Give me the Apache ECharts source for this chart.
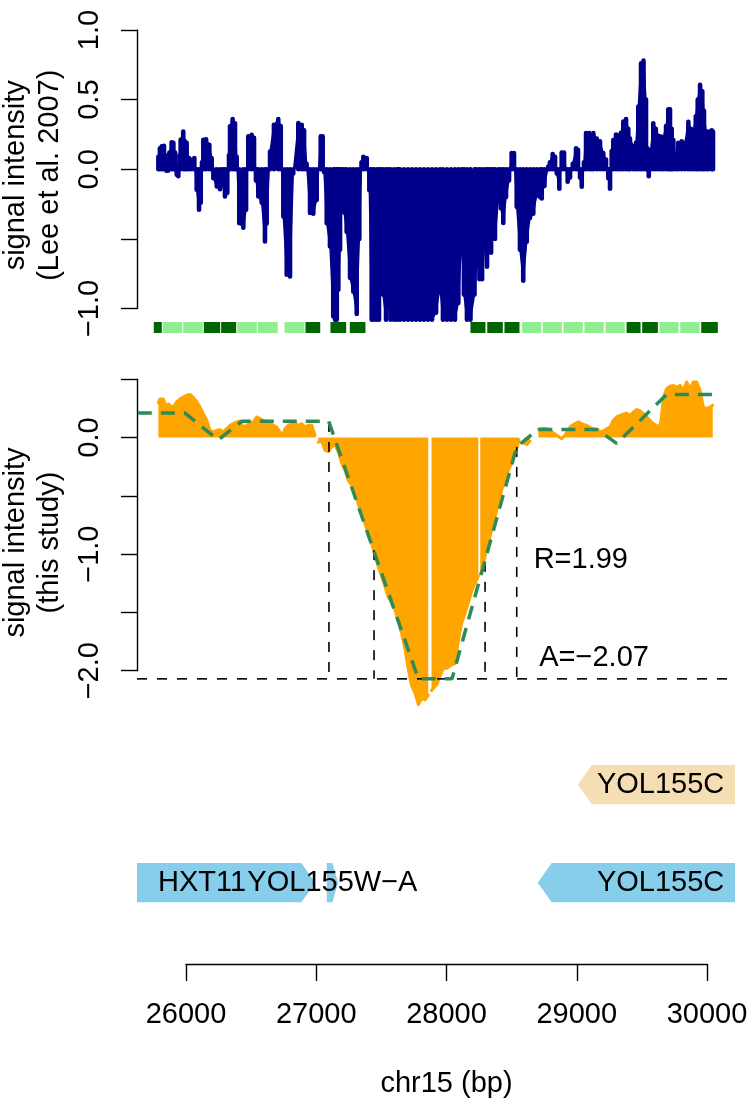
<!DOCTYPE html>
<html><head><meta charset="utf-8">
<script src="https://cdn.jsdelivr.net/npm/echarts@6/dist/echarts.min.js"></script>
<style>html,body{margin:0;padding:0;background:#fff}#c{width:747px;height:1103px}</style>
</head><body><div id="c"></div>
<script>
// ---------------- data ----------------
// Lee et al. 2007 probe signal (top panel)
const leeX = [25788,25800,25814,25831,25843,25850,25862,25873,25890,25903,
25916,25929,25941,25950,25959,25979,25992,26005,26023,26044,
26064,26082,26100,26113,26123,26133,26154,26179,26197,26210,
26236,26261,26282,26299,26317,26330,26338,26358,26376,26389,
26409,26440,26461,26478,26504,26522,26537,26555,26581,26606,
26619,26645,26675,26708,26727,26747,26773,26798,26823,26862,
26888,26906,26926,26952,26977,27003,27034,27049,27059,27080,
27105,27130,27144,27157,27169,27182,27195,27213,27233,27259,
27284,27310,27330,27347,27361,27387,27407,27425,27443,27466,
27481,27496,27512,27535,27554,27569,27596,27619,27631,27642,
27673,27704,27734,27765,27796,27826,27857,27888,27919,27949,
27972,28003,28034,28064,28090,28116,28133,28156,28183,28214,
28229,28241,28252,28272,28295,28310,28325,28341,28358,28371,
28397,28417,28435,28456,28479,28499,28517,28538,28563,28588,
28615,28640,28665,28691,28717,28730,28751,28780,28793,28814,
28832,28845,28865,28883,28901,28916,28929,28947,28968,28993,
29008,29024,29037,29054,29070,29095,29112,29126,29152,29177,
29202,29223,29241,29254,29267,29279,29300,29318,29336,29356,
29377,29394,29407,29433,29453,29471,29492,29511,29530,29540,
29551,29566,29586,29605,29625,29645,29663,29684,29701,29714,
29727,29740,29760,29778,29804,29829,29855,29875,29893,29912,
29927,29945,29962,29975,29991,30008,30034,30044];
const leeV = [0.09,0.15,0.165,0.168,0.10,-0.01,-0.01,0.12,0.193,0.19,
0.12,-0.04,-0.05,0.10,0.212,0.271,0.20,0.19,0.08,0.068,
0.08,-0.147,-0.29,-0.24,0.05,0.212,0.215,0.175,0.08,-0.064,
-0.124,-0.143,-0.11,-0.195,-0.17,0.1,0.308,0.36,0.33,0.09,
-0.387,-0.42,-0.29,0.236,0.248,0.225,-0.08,-0.195,-0.24,-0.518,
-0.39,0.128,0.319,0.36,0.31,-0.34,-0.758,-0.77,-0.03,0.331,
0.32,0.28,0.04,-0.314,-0.32,-0.22,0.236,0.236,-0.02,-0.387,
-0.554,-1.057,-1.08,-1.08,-0.865,-0.578,-0.17,-0.31,-0.45,-0.78,
-0.88,-1.04,-0.5,0.05,0.09,0.08,-0.15,-1.08,-1.08,-1.08,
-1.08,-0.72,-0.9,-1.08,-0.95,-1.08,-1.08,-1.08,-0.96,-1.08,
-1.08,-1.08,-1.08,-1.08,-1.08,-1.08,-1.08,-1.08,-1.03,-0.85,
-1.08,-1.08,-1.08,-1.08,-0.96,-0.5,-0.9,-1.08,-1.08,-0.9,
-0.7,null,-0.79,-0.79,-0.51,-0.7,-0.55,-0.6,-0.31,-0.5,
-0.22,-0.28,-0.386,-0.2,-0.08,0.116,0.116,-0.27,-0.578,-0.80,
-0.52,-0.35,-0.32,-0.19,-0.2,-0.21,-0.12,0.02,0.05,0.11,
0.09,-0.03,-0.14,0.12,0.12,0.0,-0.09,-0.06,0.04,0.15,
0.14,-0.06,-0.125,0.05,0.26,0.26,0.22,0.26,0.22,0.2,
0.116,0.07,-0.064,-0.14,0.13,0.21,0.25,0.24,0.26,0.343,
0.36,0.29,0.22,0.163,0.19,0.45,0.76,0.78,0.5,0.15,
-0.05,0.14,0.33,0.29,0.24,0.235,0.23,0.31,0.43,0.43,
0.29,0.21,0.07,0.19,0.2,0.19,0.34,0.29,0.26,0.38,
0.5,0.607,0.56,0.42,0.27,0.27,0.28,0.27];

// this study probe signal (middle panel)
const studyX = [25788,25800,25826,25839,25852,25864,25883,25903,25929,25954,
25979,26005,26031,26056,26082,26107,26133,26159,26184,26210,
26236,26261,26286,26312,26338,26363,26389,26414,26440,26466,
26491,26517,26543,26555,26568,26593,26619,26645,26670,26696,
26721,26742,26760,26785,26811,26837,26862,26888,26913,26939,
26965,26977,26990,27002,27015,27041,27067,27092,27118,27144,
27169,27195,27220,27246,27272,27297,27322,27348,27374,27399,
27425,27450,27476,27502,27527,27553,27579,27604,27629,27655,
27681,27706,27732,27757,27783,27809,27834,27859,27873,27884,
27898,27924,27949,27975,28001,28039,28064,28090,28116,28141,
28166,28192,28218,28243,28251,28258,28269,28295,28320,28346,
28371,28397,28423,28448,28473,28499,28525,28542,28556,28571,
28594,28617,28640,28671,28704,28732,28768,28806,28845,28883,
28908,28947,28985,29011,29037,29075,29113,29152,29190,29229,
29254,29279,29305,29331,29356,29382,29407,29433,29459,29484,
29509,29535,29561,29586,29612,29638,29651,29663,29689,29714,
29740,29766,29791,29816,29842,29868,29893,29919,29945,29970,
29996,30021,30042];
const studyV = [0.30,0.33,0.33,0.29,0.26,0.29,0.27,0.26,0.31,0.33,
0.348,0.363,0.371,0.345,0.31,0.262,0.205,0.15,0.063,0.048,
0.063,0.068,0.048,0.077,0.105,0.12,0.134,0.143,0.09,0.105,
0.12,0.134,0.177,0.19,0.163,0.148,0.134,0.12,0.105,0.09,
0.048,0.02,0.077,0.105,0.12,0.126,0.105,0.12,0.09,0.105,
0.105,0.105,0.02,null,-0.04,-0.03,-0.11,-0.12,-0.08,-0.06,
-0.125,-0.22,-0.28,-0.37,-0.41,-0.48,-0.57,-0.65,-0.74,-0.82,
-0.91,-1.01,-1.11,-1.19,-1.28,-1.37,-1.42,-1.48,-1.57,-1.68,
-1.82,-1.99,-2.13,-2.19,-2.29,-2.24,-2.25,-2.21,null,-2.17,
-2.15,-2.12,-2.05,-1.98,-1.98,-1.95,-1.94,-1.74,-1.59,-1.51,
-1.42,-1.32,-1.25,-1.19,null,-1.17,-1.15,-1.02,-0.91,-0.79,
-0.68,-0.57,-0.45,-0.37,-0.28,-0.22,-0.14,-0.08,-0.02,null,
-0.05,-0.06,-0.03,null,0.073,0.077,0.077,0.05,0.02,-0.01,
0.02,0.09,0.12,0.134,0.12,0.105,0.08,0.066,0.048,0.077,
0.09,0.148,0.177,0.19,0.2,0.21,0.19,0.22,0.24,0.23,
0.205,0.177,0.148,0.12,0.105,0.091,0.2,0.348,0.42,0.44,
0.448,0.43,0.448,0.405,0.477,0.42,0.477,0.477,0.405,0.262,
0.248,0.262,0.277];

// fitted piecewise model (green dashed)
const fitX = [25630,25992,26248,26427,27095,27783,28041,28538,28700,29154,29305,29689,30080];
const fitV = [0.21,0.21,-0.02,0.14,0.14,-2.07,-2.07,-0.08,0.07,0.07,-0.05,0.37,0.37];

// model parameters and breakpoints
const amplitudeA = -2.07;
const rangeR = 1.99;
const breakX = [27097,27443,28295,28538];
const breakTop = [0.134,-0.966,-1.066,-0.08];
const statX = [28668,28711];
const statY = [-1.051,-1.891];

// tiles under top panel (1 = dark, 0 = light)
const tileStart = [25749,25818,25975,26133,26266,26389,26547,26752,26913,27105,27253,28179,28308,28440,28576,28734,28893,29054,29215,29377,29497,29630,29789,29950];
const tileEnd   = [25818,25975,26133,26266,26389,26547,26708,26913,27034,27233,27381,28302,28435,28563,28730,28888,29049,29210,29371,29492,29625,29783,29945,30085];
const tileClass = [1,0,0,1,1,0,0,0,1,1,1,1,1,1,0,0,0,0,0,1,1,0,0,1];

// genes
const geneName   = ['HXT11','YOL155W\u2212A','YOL155C','YOL155C'];
const geneStart  = [25253,27080,28699,29007];
const geneEnd    = [26993,27167,30585,30277];
const geneStrand = ['+','+','-','-'];
const geneRow    = [0,0,0,1];

// axes
const xTicks = [26000,27000,28000,29000,30000];
const topLabelled = [1,0.5,0,-1];
const midLabelled = [0,-1,-2];

// ---------------- style ----------------
const FONT = 'Liberation Sans';
const FS = 29;
const X_MIN = 25624, X_MAX = 30213;
const BLUE = '#00008B', ORANGE = '#FFA500', FIT = '#2E8B57';
const DARK = '#006400', LIGHT = '#90EE90';
const ROWCOL = ['#87CEEB', '#F5DEB3'];

const fmt = v => {
  const r = Math.round(v * 10) / 10;
  return r === 0 ? '0.0' : r.toFixed(1).replace('-', '\u2212');
};
const has = (arr, v) => arr.some(a => Math.abs(a - v) < 1e-6);
const pairs = (xs, vs) => xs.map((x, i) => [x, vs[i] === null ? '-' : vs[i]]);

const axisBase = {
  axisLine: {show: true, lineStyle: {color: '#000', width: 1.4}},
  axisTick: {show: true, inside: false, length: 16, lineStyle: {color: '#000', width: 1.4}},
  splitLine: {show: false}
};
const nameStyle = (pad) => ({fontSize: FS, fontFamily: FONT, color: '#000', lineHeight: 34, padding: [0, pad, 0, 0]});
const gridBase = {outerBoundsMode: 'none', containLabel: false};

const chart = echarts.init(document.getElementById('c'), null, {renderer: 'canvas'});
const option = {
  animation: false,
  backgroundColor: '#fff',
  textStyle: {fontFamily: FONT},
  grid: [
    Object.assign({left: 137, width: 598, top: 30, height: 278.5}, gridBase),
    Object.assign({left: 137, width: 598, top: 322, height: 11}, gridBase),
    Object.assign({left: 137, width: 598, top: 379.3, height: 291.4}, gridBase),
    Object.assign({left: 137, width: 598, top: 735.7, height: 196}, gridBase),
    Object.assign({left: 186, width: 521, top: 900, height: 64}, gridBase)
  ],
  xAxis: [
    {type: 'value', gridIndex: 0, min: X_MIN, max: X_MAX, show: false},
    {type: 'value', gridIndex: 1, min: X_MIN, max: X_MAX, show: false},
    {type: 'value', gridIndex: 2, min: X_MIN, max: X_MAX, show: false},
    {type: 'value', gridIndex: 3, min: X_MIN, max: X_MAX, show: false},
    Object.assign({}, axisBase, {
      type: 'value', gridIndex: 4, min: xTicks[0], max: xTicks[xTicks.length - 1], interval: 1000,
      axisTick: {show: true, inside: false, length: 17, lineStyle: {color: '#000', width: 1.4}},
      axisLabel: {margin: 36, fontSize: FS, fontFamily: FONT, color: '#000', formatter: v => String(v)},
      name: 'chr15 (bp)', nameLocation: 'middle', nameGap: 105,
      nameTextStyle: {fontSize: FS, fontFamily: FONT, color: '#000'}
    })
  ],
  yAxis: [
    Object.assign({}, axisBase, {
      type: 'value', gridIndex: 0, min: -1, max: 1, interval: 0.5,
      axisLabel: {rotate: 90, margin: 33, fontSize: FS, fontFamily: FONT, color: '#000',
        formatter: v => has(topLabelled, v) ? fmt(v) : ''},
      name: 'signal intensity\n(Lee et al. 2007)', nameLocation: 'middle', nameRotate: 90, nameGap: 52,
      nameTextStyle: nameStyle(12)
    }),
    {type: 'value', gridIndex: 1, min: 0, max: 1, show: false},
    Object.assign({}, axisBase, {
      type: 'value', gridIndex: 2, min: -2, max: 0.5, interval: 0.5,
      axisLabel: {rotate: 90, margin: 33, fontSize: FS, fontFamily: FONT, color: '#000',
        formatter: v => has(midLabelled, v) ? fmt(v) : ''},
      name: 'signal intensity\n(this study)', nameLocation: 'middle', nameRotate: 90, nameGap: 52,
      nameTextStyle: nameStyle(35)
    }),
    {type: 'value', gridIndex: 3, min: 0, max: 2, show: false},
    {type: 'value', gridIndex: 4, min: 0, max: 1, show: false}
  ],
  series: [
    {
      // envelope fill between neighbouring probes
      type: 'line', xAxisIndex: 0, yAxisIndex: 0, data: pairs(leeX, leeV),
      showSymbol: false, clip: false, silent: true, z: 2,
      lineStyle: {color: BLUE, width: 1.5, join: 'round'},
      areaStyle: {color: BLUE, opacity: 1}
    },
    {
      // R type="h": a vertical line from 0 to each probe value
      type: 'custom', xAxisIndex: 0, yAxisIndex: 0, silent: true, clip: false, z: 2,
      data: leeX.map((x, i) => [x, leeV[i]]).filter(d => d[1] !== null),
      renderItem: (params, api) => {
        const a = api.coord([api.value(0), 0]);
        const b = api.coord([api.value(0), api.value(1)]);
        return {type: 'line', shape: {x1: a[0], y1: a[1], x2: b[0], y2: b[1]},
          style: {stroke: BLUE, lineWidth: 4.6, lineCap: 'round'}};
      }
    },
    {
      type: 'custom', xAxisIndex: 1, yAxisIndex: 1, silent: true, z: 5,
      data: tileStart.map((s, i) => [s, tileEnd[i], tileClass[i]]),
      renderItem: (params, api) => {
        const p0 = api.coord([api.value(0), 1]);
        const p1 = api.coord([api.value(1), 0]);
        return {type: 'rect',
          shape: {x: p0[0] + 0.5, y: p0[1], width: Math.max(p1[0] - p0[0] - 1, 0.5), height: p1[1] - p0[1]},
          style: {fill: api.value(2) ? DARK : LIGHT}};
      }
    },
    {
      type: 'line', xAxisIndex: 2, yAxisIndex: 2, data: pairs(studyX, studyV),
      showSymbol: false, clip: false, silent: true, z: 2,
      lineStyle: {color: ORANGE, width: 3, join: 'round', cap: 'round'},
      areaStyle: {color: ORANGE, opacity: 1}
    },
    {
      type: 'line', xAxisIndex: 2, yAxisIndex: 2, data: [[X_MIN, amplitudeA], [X_MAX, amplitudeA]],
      showSymbol: false, clip: false, silent: true, z: 3,
      lineStyle: {color: '#000', width: 1.6, type: [10, 10]}
    },
    {
      type: 'custom', xAxisIndex: 2, yAxisIndex: 2, silent: true, clip: false, z: 3,
      data: breakX.map((x, i) => [x, breakTop[i]]),
      renderItem: (params, api) => {
        const a = api.coord([api.value(0), api.value(1)]);
        const b = api.coord([api.value(0), amplitudeA]);
        return {type: 'line', shape: {x1: a[0], y1: a[1], x2: b[0], y2: b[1]},
          style: {stroke: '#000', lineWidth: 1.6, lineDash: [10, 10]}};
      }
    },
    {
      type: 'line', xAxisIndex: 2, yAxisIndex: 2, data: pairs(fitX, fitV),
      showSymbol: false, clip: false, silent: true, z: 4,
      lineStyle: {color: FIT, width: 3.5, type: [14, 9]}
    },
    {
      type: 'custom', xAxisIndex: 2, yAxisIndex: 2, silent: true, clip: false, z: 6,
      data: statX.map((x, i) => [x, statY[i]]),
      renderItem: (params, api) => {
        const p = api.coord([api.value(0), api.value(1)]);
        const txt = params.dataIndex === 0 ? 'R=' + rangeR.toFixed(2)
                                           : 'A=' + amplitudeA.toFixed(2).replace('-', '\u2212');
        return {type: 'text', style: {text: txt, x: p[0], y: p[1], align: 'left', verticalAlign: 'middle',
          fontSize: FS, fontFamily: FONT, fill: '#000'}};
      }
    },
    {
      type: 'custom', xAxisIndex: 3, yAxisIndex: 3, silent: true, clip: true, z: 5,
      data: geneStart.map((s, i) => [s, geneEnd[i], geneRow[i]]),
      renderItem: (params, api) => {
        const i = params.dataIndex;
        const row = api.value(2);
        const x0 = api.coord([api.value(0), row + 0.5])[0];
        const x1 = api.coord([api.value(1), row + 0.5])[0];
        const yc = api.coord([api.value(0), row + 0.5])[1];
        const h = api.size([0, 0.4])[1];
        const head = Math.min(14, (x1 - x0) / 2);
        const pts = geneStrand[i] === '+'
          ? [[x0, yc - h / 2], [x1 - head, yc - h / 2], [x1, yc], [x1 - head, yc + h / 2], [x0, yc + h / 2]]
          : [[x1, yc - h / 2], [x0 + head, yc - h / 2], [x0, yc], [x0 + head, yc + h / 2], [x1, yc + h / 2]];
        return {type: 'group', children: [
          {type: 'polygon', shape: {points: pts}, style: {fill: ROWCOL[row]}},
          {type: 'text', style: {text: geneName[i], x: (x0 + x1) / 2, y: yc, align: 'center', verticalAlign: 'middle',
            fontSize: FS, fontFamily: FONT, fill: '#000'}}
        ]};
      }
    }
  ]
};
chart.setOption(option);
</script>
</body></html>
